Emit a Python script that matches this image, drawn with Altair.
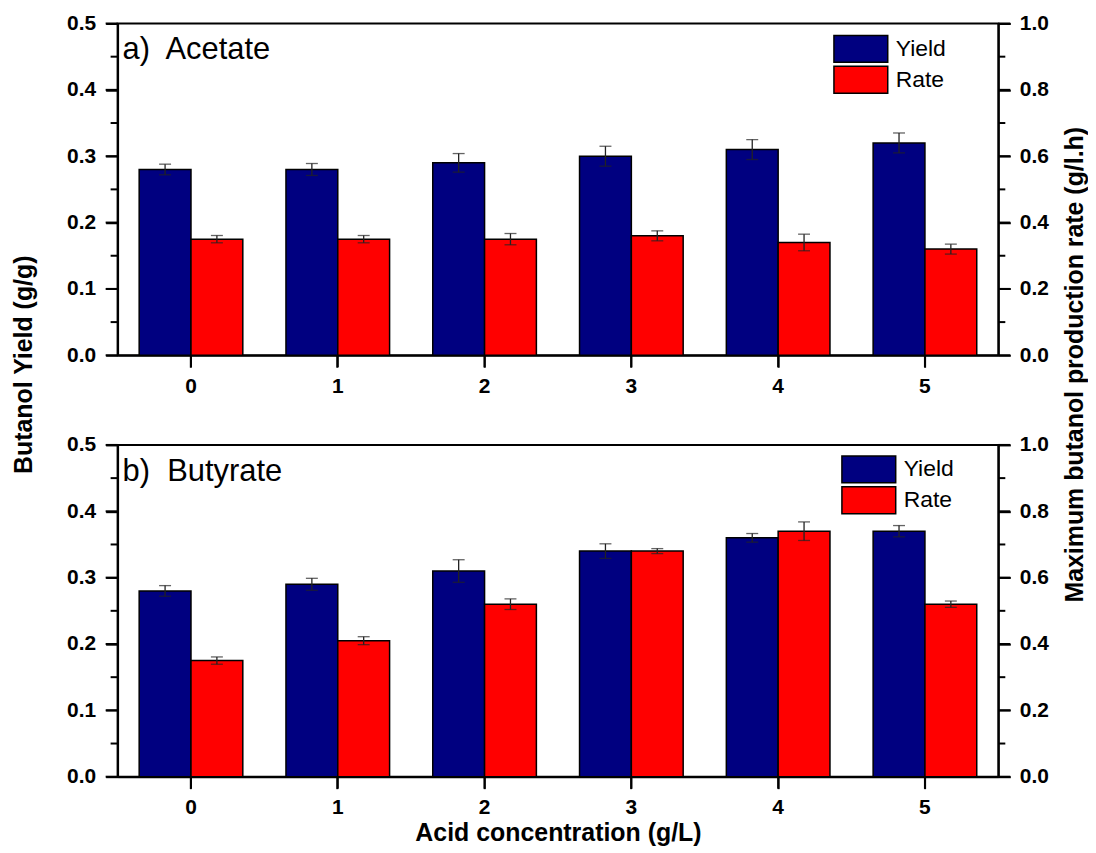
import altair as alt
import pandas as pd

# ---------------- data ----------------
conc = ["0", "1", "2", "3", "4", "5"]
series = ["Yield", "Rate"]

acetate_yield = [0.28, 0.28, 0.29, 0.30, 0.31, 0.32]
acetate_yield_err = [0.008, 0.009, 0.014, 0.015, 0.015, 0.015]
acetate_rate = [0.35, 0.35, 0.35, 0.36, 0.34, 0.32]
acetate_rate_err = [0.011, 0.011, 0.017, 0.015, 0.025, 0.015]

butyrate_yield = [0.28, 0.29, 0.31, 0.34, 0.36, 0.37]
butyrate_yield_err = [0.008, 0.009, 0.017, 0.011, 0.0065, 0.0085]
butyrate_rate = [0.35, 0.41, 0.52, 0.68, 0.74, 0.52]
butyrate_rate_err = [0.011, 0.012, 0.016, 0.0075, 0.028, 0.0095]

yield_major = [0.0, 0.1, 0.2, 0.3, 0.4, 0.5]
yield_minor = [0.05, 0.15, 0.25, 0.35, 0.45]
rate_major = [0.0, 0.2, 0.4, 0.6, 0.8, 1.0]
rate_minor = [0.1, 0.3, 0.5, 0.7, 0.9]

FONT = "Liberation Sans"
NAVY = "#000080"
RED = "#ff0000"
W = 884
H = 333

TICK = dict(ticks=True, tickSize=12, tickColor="black", tickOpacity=1, tickWidth=2)


def frame(vals, errs, name):
    return pd.DataFrame({
        "conc": conc,
        "series": [name] * len(conc),
        "value": vals,
        "lo": [v - e for v, e in zip(vals, errs)],
        "hi": [v + e for v, e in zip(vals, errs)],
    })


def panel(label, yv, ye, rv, re, legx, legy, top):
    xenc = alt.X(
        "conc:N", sort=conc,
        scale=alt.Scale(paddingInner=0.294, paddingOuter=0.147),
        axis=alt.Axis(
            labelAngle=0, labelPadding=8, **TICK,
            title=None if top else "Acid concentration (g/L)",
            titleBaseline="alphabetic", titleY=64, titleX=W / 2, titleAlign="center",
        ),
    )
    xoff = alt.XOffset("series:N", sort=series,
                       scale=alt.Scale(domain=series, paddingInner=0, paddingOuter=0))
    legend = alt.Legend(
        orient="none", legendX=legx, legendY=legy, title=None,
        symbolType="M-1,-1H3V1H-1Z", symbolSize=729,
        symbolStrokeColor="black", symbolStrokeWidth=1.5, symbolOpacity=1,
        labelFont=FONT, labelFontSize=23, labelFontWeight="normal",
        labelColor="black", labelOffset=34, rowPadding=-2, padding=0,
    )
    color = alt.Color("series:N", sort=series,
                      scale=alt.Scale(domain=series, range=[NAVY, RED]), legend=legend)

    ydf = frame(yv, ye, "Yield")
    rdf = frame(rv, re, "Rate")

    def ysc():
        return alt.Scale(domain=[0, 0.5], nice=False, zero=True)

    def rsc():
        return alt.Scale(domain=[0, 1.0], nice=False, zero=True)

    yaxis = alt.Axis(
        orient="left", values=yield_major, format=".1f", labelPadding=10, **TICK,
        title="Butanol Yield (g/g)" if top else None,
        titleAngle=270, titleBaseline="alphabetic", titleAlign="center",
        titleX=-86, titleY=342,
    )
    raxis = alt.Axis(
        orient="right", values=rate_major, format=".1f", labelPadding=9, **TICK,
        title="Maximum butanol production rate (g/l.h)" if top else None,
        titleAngle=270, titleBaseline="alphabetic", titleAlign="center",
        titleX=84, titleY=342,
    )

    yb = alt.Chart(ydf).mark_bar(stroke="black", strokeWidth=1.5).encode(
        x=xenc, xOffset=xoff, color=color,
        y=alt.Y("value:Q", scale=ysc(), axis=yaxis),
    )
    rb = alt.Chart(rdf).mark_bar(stroke="black", strokeWidth=1.5).encode(
        x=xenc, xOffset=xoff, color=color,
        y=alt.Y("value:Q", scale=rsc(), axis=raxis),
    )

    def errs(df, sc):
        base = alt.Chart(df)
        rule = base.mark_rule(color="#222", strokeWidth=1.3).encode(
            x=xenc, xOffset=xoff,
            y=alt.Y("lo:Q", scale=sc(), axis=None), y2="hi:Q",
        )
        hi = base.mark_tick(color="#222", size=12, thickness=1.3, orient="horizontal").encode(
            x=xenc, xOffset=xoff, y=alt.Y("hi:Q", scale=sc(), axis=None),
        )
        lo = base.mark_tick(color="#222", size=12, thickness=1.3, orient="horizontal").encode(
            x=xenc, xOffset=xoff, y=alt.Y("lo:Q", scale=sc(), axis=None),
        )
        return [rule, hi, lo]

    def yticks(vals, sc, x0, x1):
        return alt.Chart(pd.DataFrame({"m": vals})).mark_rule(
            color="black", strokeWidth=2
        ).encode(y=alt.Y("m:Q", scale=sc(), axis=None), x=alt.value(x0), x2=alt.value(x1))

    xticks = alt.Chart(pd.DataFrame({"conc": conc})).mark_rule(
        color="black", strokeWidth=2
    ).encode(x=xenc, y=alt.value(H), y2=alt.value(H + 12))

    lab = alt.Chart(pd.DataFrame({"label": [label]})).mark_text(
        align="left", baseline="alphabetic", font=FONT, fontSize=31, color="black"
    ).encode(x=alt.value(5), y=alt.value(36), text="label:N")

    layers = [yb, rb] + errs(ydf, ysc) + errs(rdf, rsc) + [
        yticks(yield_minor, ysc, 0, -7), yticks(rate_minor, rsc, W, W + 7),
        yticks(yield_major, ysc, 0, -12), yticks(rate_major, rsc, W, W + 12),
        xticks, lab,
    ]
    return alt.layer(*layers).resolve_scale(y="independent").properties(width=W, height=H)


top = panel("a)\u00a0 Acetate", acetate_yield, acetate_yield_err,
            acetate_rate, acetate_rate_err, 718, 11, True)
bottom = panel("b)\u00a0 Butyrate", butyrate_yield, butyrate_yield_err,
               butyrate_rate, butyrate_rate_err, 726, 10, False)

chart = alt.vconcat(top, bottom, spacing=90, bounds="flush").resolve_legend(
    color="independent"
).properties(
    padding={"left": 3, "top": 2, "right": 0, "bottom": 0}
).configure_axis(
    labelFont=FONT, labelFontWeight="bold", labelFontSize=21, labelColor="black",
    titleFont=FONT, titleFontWeight="bold", titleFontSize=25, titleColor="black",
    tickColor="black", tickWidth=2, tickOpacity=1, ticks=True,
    domainColor="black", domainWidth=2, grid=False,
).configure_view(stroke="black", strokeWidth=2)

chart.save("out.html", embed_options={"renderer": "svg", "actions": False})
